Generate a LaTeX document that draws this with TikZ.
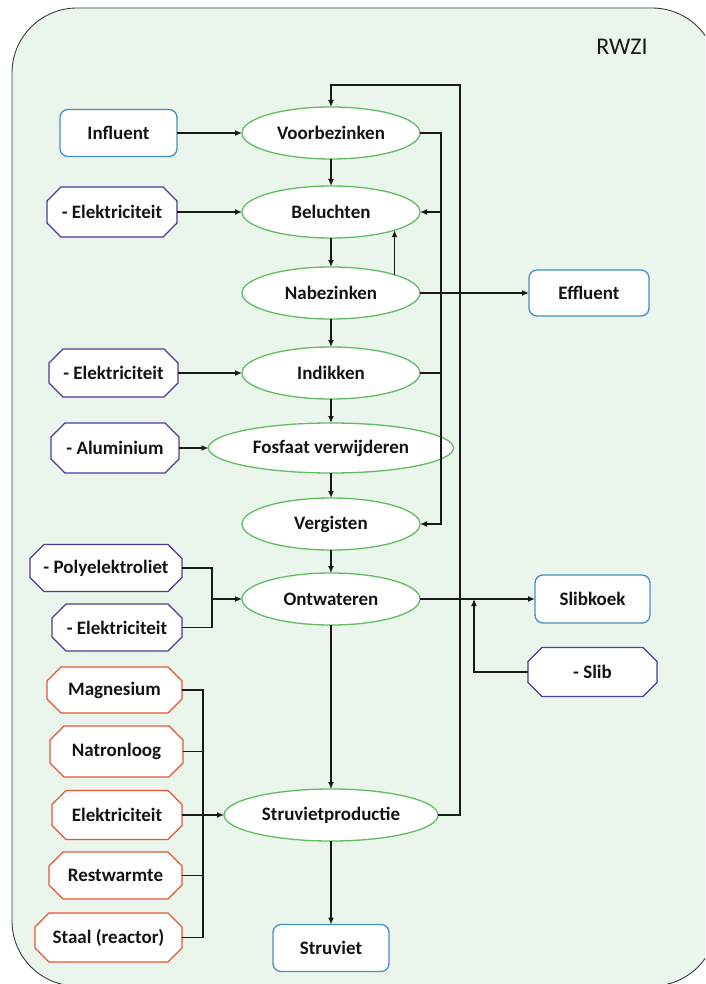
\documentclass[tikz,border=0pt]{standalone}
\usepackage{fontspec}
\setmainfont{Carlito}
\usetikzlibrary{shapes.geometric,arrows.meta}
\pgfdeclarelayer{bg}
\pgfsetlayers{bg,main}

\definecolor{panel}{RGB}{234,245,236}
\definecolor{panelline}{RGB}{60,60,60}
\definecolor{procgreen}{RGB}{98,188,98}
\definecolor{outblue}{RGB}{70,142,200}
\definecolor{inpurple}{RGB}{74,60,152}
\definecolor{inorange}{RGB}{232,84,52}

\tikzset{
  lbl/.style={font=\bfseries\fontsize{19}{21}\selectfont, text=black!92},
  proc/.style={lbl, ellipse, draw=procgreen, line width=1.3pt, fill=white,
    inner sep=0pt, outer sep=0pt, minimum width=178pt, minimum height=52pt},
  outbox/.style={lbl, rectangle, rounded corners=8pt, draw=outblue, line width=1.3pt,
    fill=white, inner sep=0pt, outer sep=0pt},
  octa/.style={lbl, rectangle, inner sep=0pt, outer sep=0pt},
  conn/.style={line width=1.4pt, black!90},
  arr/.style={conn, -{Latex[length=7pt,width=6pt]}},
}

% octagonal frame drawn behind a named rectangle node
\newcommand\octframe[2]{%
  \begin{pgfonlayer}{bg}
  \draw[line width=1.3pt, draw=#2, fill=white]
    ([xshift=14pt]#1.north west) -- ([xshift=-14pt]#1.north east)
    -- ([yshift=-14pt]#1.north east) -- ([yshift=14pt]#1.south east)
    -- ([xshift=-14pt]#1.south east) -- ([xshift=14pt]#1.south west)
    -- ([yshift=14pt]#1.south west) -- ([yshift=-14pt]#1.north west) -- cycle;
  \end{pgfonlayer}}

\begin{document}
\begin{tikzpicture}[x=1pt,y=-1pt]
\useasboundingbox (0,0) rectangle (705,984);

% panel
\begin{pgfonlayer}{bg}
  \begin{scope}
    \clip (0,0) rectangle (705,984);
    \draw[panelline, line width=0.9pt, fill=panel, rounded corners=65pt]
      (12,8) rectangle (717,986);
  \end{scope}
\end{pgfonlayer}
\node[font=\fontsize{24}{26}\selectfont, text=black!90] (title) at (622,47) {RWZI};

% process steps
\node[proc] (voor) at (331,133) {Voorbezinken};
\node[proc] (bel)  at (331,212) {Beluchten};
\node[proc] (nab)  at (331,293) {Nabezinken};
\node[proc] (ind)  at (331,373) {Indikken};
\node[proc, minimum width=245pt, minimum height=50pt] (fos) at (331,448) {Fosfaat verwijderen};
\node[proc] (verg) at (331,524) {Vergisten};
\node[proc] (ont)  at (331,599) {Ontwateren};
\node[proc, minimum width=214pt] (stp) at (331,815) {Struvietproductie};

% inflow and outflows
\node[outbox, minimum width=117pt, minimum height=47pt] (infl)  at (118.5,133) {Influent};
\node[outbox, minimum width=120pt, minimum height=46pt] (eff)   at (589,293) {Effluent};
\node[outbox, minimum width=115pt, minimum height=48pt] (slibk) at (592.5,599) {Slibkoek};
\node[outbox, minimum width=116pt, minimum height=47pt] (struv) at (331,948) {Struviet};

% avoided inputs
\node[octa, minimum width=130pt, minimum height=50pt] (el1)  at (112,212) {- Elektriciteit};
\node[octa, minimum width=129pt, minimum height=48pt] (el2)  at (113.5,373) {- Elektriciteit};
\node[octa, minimum width=128pt, minimum height=50pt] (alu)  at (115,448) {- Aluminium};
\node[octa, minimum width=152pt, minimum height=47pt] (poly) at (106,568) {- Polyelektroliet};
\node[octa, minimum width=130pt, minimum height=47pt] (el3)  at (117,627.5) {- Elektriciteit};
\node[octa, minimum width=129pt, minimum height=49pt] (slib) at (592.5,672) {- Slib};
\octframe{el1}{inpurple}
\octframe{el2}{inpurple}
\octframe{alu}{inpurple}
\octframe{poly}{inpurple}
\octframe{el3}{inpurple}
\octframe{slib}{inpurple}

% struvite reactor inputs
\node[octa, minimum width=135pt, minimum height=46pt] (mag)   at (114.5,690) {Magnesium};
\node[octa, minimum width=133pt, minimum height=51pt] (nat)   at (116.5,751.5) {Natronloog};
\node[octa, minimum width=130pt, minimum height=49pt] (elo)   at (117,815) {Elektriciteit};
\node[octa, minimum width=133pt, minimum height=47pt] (rest)  at (115.5,875.5) {Restwarmte};
\node[octa, minimum width=147pt, minimum height=49pt] (staal) at (108.5,937.5) {Staal (reactor)};
\octframe{mag}{inorange}
\octframe{nat}{inorange}
\octframe{elo}{inorange}
\octframe{rest}{inorange}
\octframe{staal}{inorange}

% routing points
\coordinate (bus) at (441,0);
\coordinate (loop) at (460,85);
\coordinate (pj) at (212,599);
\coordinate (oj) at (203,815);
\coordinate (sj) at (474,599);

% main line
\draw[arr] (infl.east) -- (voor.west);
\draw[arr] (voor.south) -- (bel.north);
\draw[arr] (el1.east) -- (bel.west);
\draw[arr] (bel.south) -- (nab.north);
\draw[arr] (nab.16) -- (bel.-16);
\draw[arr] (nab.south) -- (ind.north);
\draw[arr] (el2.east) -- (ind.west);
\draw[arr] (ind.south) -- (fos.north);
\draw[arr] (alu.east) -- (fos.west);
\draw[arr] (fos.south) -- (verg.north);
\draw[arr] (verg.south) -- (ont.north);
\draw[arr] (ont.south) -- (stp.north);
\draw[arr] (stp.south) -- (struv.north);

% return flows
\draw[arr] (voor.east) -- (bus |- voor.east) -- (bus |- verg.east) -- (verg.east);
\draw[arr] (bus |- bel.east) -- (bel.east);
\draw[conn] (ind.east) -- (bus |- ind.east);
\draw[arr] (stp.east) -| (loop) -| (voor.north);

% outflows
\draw[arr] (nab.east) -- (eff.west);
\draw[arr] (ont.east) -- (slibk.west);
\draw[arr] (slib.west) -| (sj);

% dewatering inputs
\draw[conn] (poly.east) -| (pj);
\draw[conn] (el3.east) -| (pj);
\draw[arr] (pj) -- (ont.west);

% struvite inputs
\draw[conn] (mag.east) -| (oj |- staal.east) -- (staal.east);
\draw[conn] (nat.east) -- (oj |- nat.east);
\draw[conn] (rest.east) -- (oj |- rest.east);
\draw[arr] (elo.east) -- (stp.west);
\end{tikzpicture}
\end{document}
